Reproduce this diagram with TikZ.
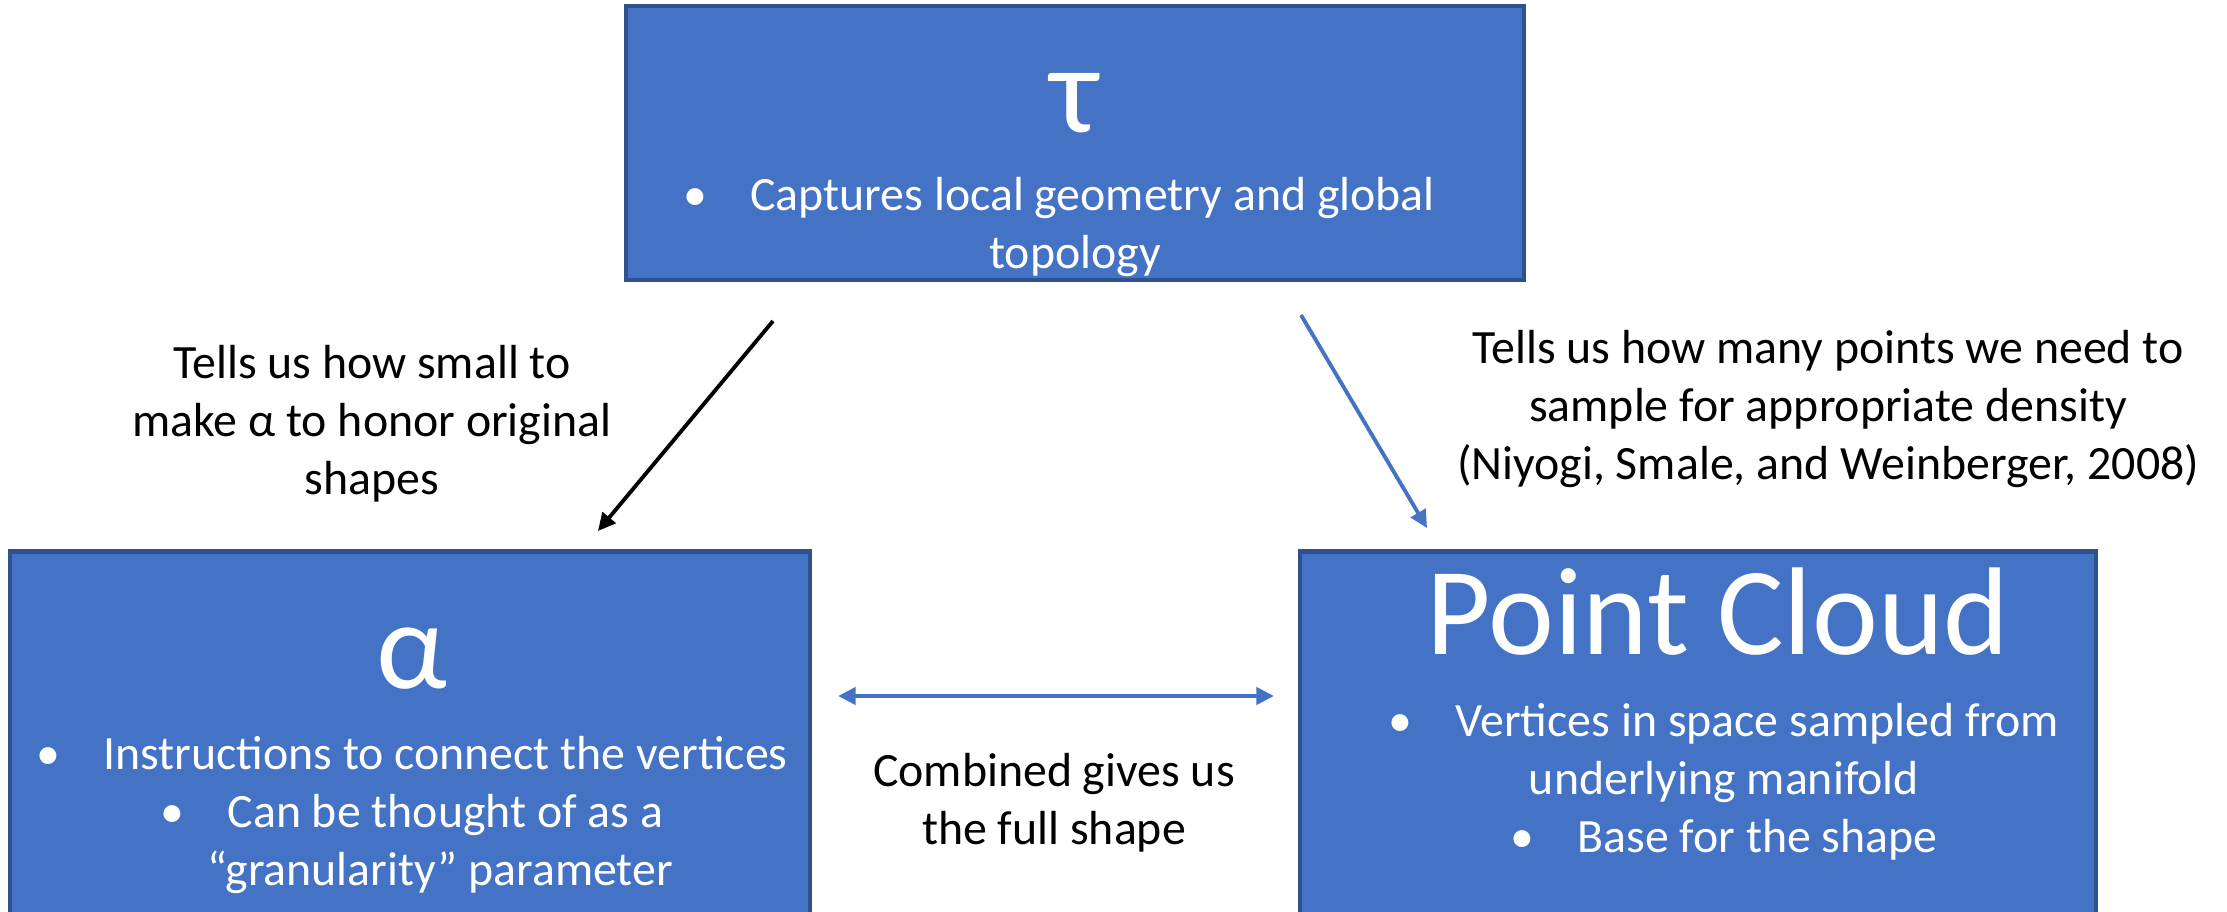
\documentclass[tikz,border=0pt]{standalone}
\usepackage{fontspec}
\setmainfont{Carlito}
\usetikzlibrary{positioning}
\usetikzlibrary{arrows.meta}
\definecolor{boxblue}{HTML}{4472C4}
\definecolor{boxedge}{HTML}{2F528F}
\tikzset{
        % Blue boxes
        bluebox/.style={rectangle, fill=boxblue, draw=boxedge, line width=1.2pt, inner sep=0pt},
        % Big symbols in the boxes
        box_title/.style={white, inner sep=0pt, font=\fontsize{35.5}{40}\selectfont},
        % Bullet text in the boxes
        box_text/.style={white, align=center, inner sep=0pt, font=\fontsize{13.6}{16.5}\selectfont},
        % Labels beside the arrows
        arrow_label/.style={black, align=center, inner sep=0pt, font=\fontsize{13.6}{16.5}\selectfont},
        % Arrows
        link/.style={line width=1.1pt, -{Triangle[length=5pt, width=4.8pt]}},
        twolink/.style={line width=1.3pt, {Triangle[length=5pt, width=4.8pt]}-{Triangle[length=5pt, width=4.8pt]}}
}
\newcommand{\bul}{\textbullet\hspace{0.9em}}

\begin{document}
\begin{tikzpicture}[x=0.01cm, y=-0.01cm]
            \useasboundingbox (0,0) rectangle (2227,911);
            % Boxes
            \node[bluebox, minimum width=8.98cm, minimum height=2.74cm] (tau) at (1075,143) {};
            \node[bluebox, minimum width=7.99cm, minimum height=3.65cm] (alpha) at (410,734) {};
            \node[bluebox, minimum width=7.95cm, minimum height=3.65cm] (cloud) at (1698,734) {};
            % Box texts
            \node[box_title, anchor=base] (tau_t) at (1075,132) {τ};
            \node[box_text] (tau_b) at (1075,227) {\bul Captures local geometry and global\hspace*{9pt}\\ topology};
            \node[box_title, anchor=base] (alpha_t) at (412,688) {α};
            \node[box_text] (alpha_b) at (412,815) {\bul Instructions to connect the vertices\\ \bul Can be thought of as a\\ \hspace*{16pt}“granularity” parameter};
            \node[box_title, anchor=base] (cloud_t) at (1718,654) {Point Cloud};
            \node[box_text] (cloud_b) at (1724,782) {\bul Vertices in space sampled from\\ underlying manifold\\ \bul Base for the shape};
            % Labels
            \node[arrow_label] (small) at (372,424) {Tells us how small to\\ make α to honor original\\ shapes};
            \node[arrow_label] (many) at (1828,409) {Tells us how many points we need to\\ sample for appropriate density\\ (Niyogi, Smale, and Weinberger, 2008)};
            \node[arrow_label] (comb) at (1054,803) {Combined gives us\\ the full shape};
            % Arrow ends
            \coordinate (a1) at (773,321);
            \coordinate (a2) at (598,531);
            \coordinate (b1) at (1301,315);
            \coordinate (b2) at (1427,528);
            \coordinate (c1) at (838,696);
            \coordinate (c2) at (1274,696);
            \draw[link, black] (a1) -- (a2);
            \draw[link, boxblue] (b1) -- (b2);
            \draw[twolink, boxblue] (c1) -- (c2);
\end{tikzpicture}
\end{document}
